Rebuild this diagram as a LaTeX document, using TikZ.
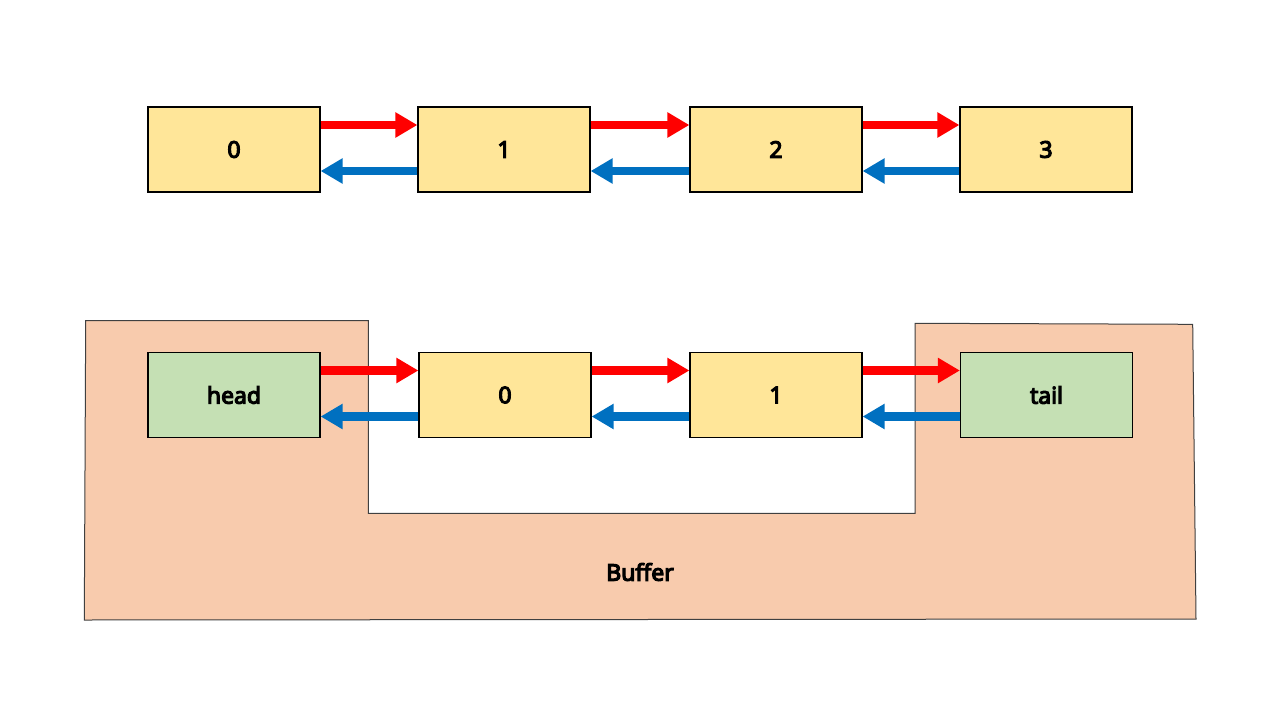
\documentclass[tikz,border=0pt]{standalone}
\usepackage{fontspec}
\setmainfont{Noto Sans}[AutoFakeBold=5]
\usetikzlibrary{arrows.meta}
\definecolor{nodeyellow}{HTML}{FFE699}
\definecolor{nodegreen}{HTML}{C5E0B4}
\definecolor{bufferfill}{HTML}{F8CBAD}
\definecolor{fwdred}{HTML}{FF0000}
\definecolor{backblue}{HTML}{0070C0}
\begin{document}
\begin{tikzpicture}[x=1pt,y=-1pt,
  listnode/.style={draw=black, line width=1.2pt, minimum width=172pt, minimum height=85pt, inner sep=0pt, font=\fontsize{23}{27}\selectfont\bfseries},
  datanode/.style={listnode, fill=nodeyellow},
  endnode/.style={listnode, fill=nodegreen},
  fwd/.style={draw=fwdred, line width=8.5pt, -{Triangle[length=22pt,width=24pt]}},
  bwd/.style={draw=backblue, line width=8.5pt, -{Triangle[length=22pt,width=24pt]}}
]
\useasboundingbox[fill=white] (0,0) rectangle (1280,720);
% buffer
\draw[fill=bufferfill, draw=black!75, line width=1pt]
  (85.7,320.7) -- (368.3,320.7) -- (368.3,513.3) -- (915,513.3) -- (915,323.3)
  -- (1192.7,324.3) -- (1196,619) -- (84.3,620) -- cycle;
\node[font=\fontsize{23}{27}\selectfont\bfseries] (buf) at (640,572) {Buffer};
% top list
\node[datanode] (t0) at (234,149.5) {0};
\node[datanode] (t1) at (504,149.5) {1};
\node[datanode] (t2) at (776,149.5) {2};
\node[datanode] (t3) at (1046,149.5) {3};
% bottom list
\node[endnode] (head) at (234,395) {head};
\node[datanode] (b0) at (505,395) {0};
\node[datanode] (b1) at (776,395) {1};
\node[endnode] (tail) at (1046.5,395) {tail};
% arrows
\foreach \a/\b in {t0/t1,t1/t2,t2/t3,head/b0,b0/b1,b1/tail}{
  \draw[fwd] ([yshift=24.5pt]\a.east) -- ([yshift=24.5pt]\b.west);
  \draw[bwd] ([yshift=-21.5pt]\b.west) -- ([yshift=-21.5pt]\a.east);
}
\end{tikzpicture}
\end{document}
